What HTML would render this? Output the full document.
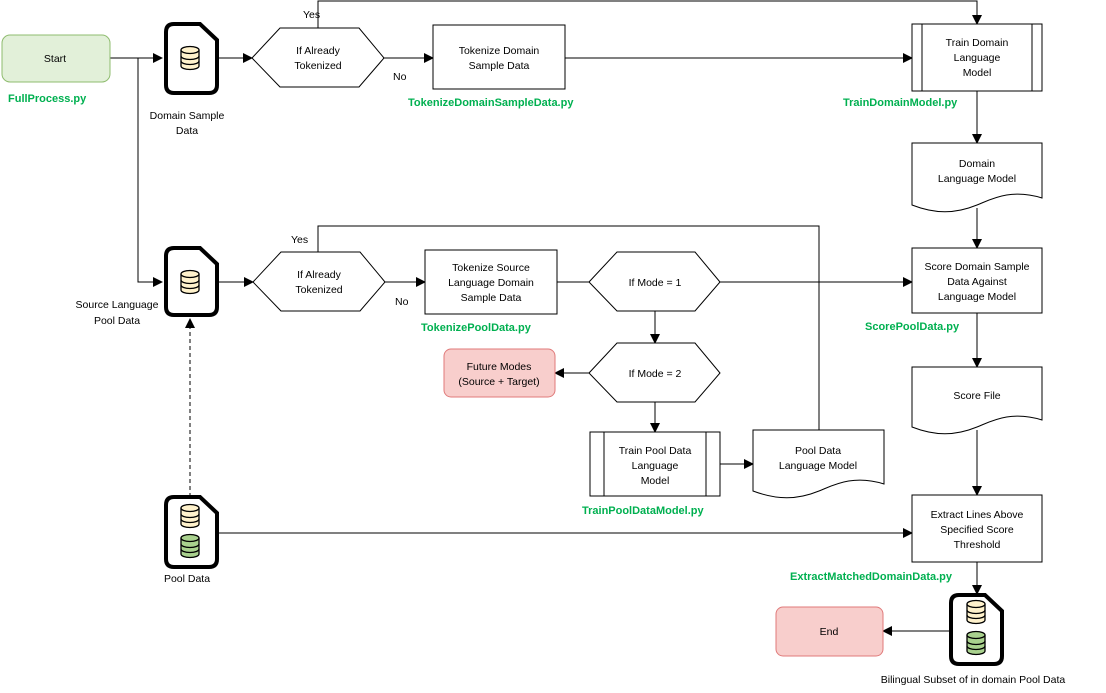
<!DOCTYPE html>
<html><head><meta charset="utf-8"><style>
html,body{margin:0;padding:0;background:#fff;}
svg{display:block;}
text{font-family:"Liberation Sans",sans-serif;font-size:10.5px;fill:#000;}
.g{fill:#00b050;font-weight:bold;font-size:11px;}
.c{text-anchor:middle;}
</style></head><body>
<svg width="1106" height="693" viewBox="0 0 1106 693" xmlns="http://www.w3.org/2000/svg">
<defs>
<marker id="a" markerWidth="10" markerHeight="10" refX="9" refY="5" orient="auto" markerUnits="userSpaceOnUse"><path d="M0,0 L10,5 L0,10 Z" fill="#000"/></marker>
<g id="cyl"><path d="M-9,-8 V8 A9,3.5 0 0 0 9,8 V-8" fill="#fff2cc" stroke="#000" stroke-width="1.3"/><ellipse cx="0" cy="-8" rx="9" ry="3.5" fill="#fff2cc" stroke="#000" stroke-width="1.3"/><path d="M-9,-2 A9,3.5 0 0 0 9,-2 M-9,3 A9,3.5 0 0 0 9,3" fill="none" stroke="#000" stroke-width="1.3"/></g>
<g id="cylg"><path d="M-9,-8 V8 A9,3.5 0 0 0 9,8 V-8" fill="#a9d18e" stroke="#000" stroke-width="1.3"/><ellipse cx="0" cy="-8" rx="9" ry="3.5" fill="#a9d18e" stroke="#000" stroke-width="1.3"/><path d="M-9,-2 A9,3.5 0 0 0 9,-2 M-9,3 A9,3.5 0 0 0 9,3" fill="none" stroke="#000" stroke-width="1.3"/></g>
</defs>
<g fill="none" stroke="#000" stroke-width="1">
<!-- connectors -->
<path d="M110,58 H162" marker-end="url(#a)"/>
<path d="M138,58 V282 H162" marker-end="url(#a)"/>
<path d="M217,58 H252" marker-end="url(#a)"/>
<path d="M318,28 V1 H977 V24" marker-end="url(#a)"/>
<path d="M384,58 H433" marker-end="url(#a)"/>
<path d="M565,58 H912" marker-end="url(#a)"/>
<path d="M977,91 V143" marker-end="url(#a)"/>
<path d="M977,208 V248" marker-end="url(#a)"/>
<path d="M977,313 V367" marker-end="url(#a)"/>
<path d="M977,430 V495" marker-end="url(#a)"/>
<path d="M977,562 V594" marker-end="url(#a)"/>
<path d="M951,631 H883" marker-end="url(#a)"/>
<path d="M217,282 H253" marker-end="url(#a)"/>
<path d="M318,252 V226 H819 V430"/>
<path d="M385,282 H425" marker-end="url(#a)"/>
<path d="M557,282 H589"/>
<path d="M720,282 H912" marker-end="url(#a)"/>
<path d="M655,311 V343" marker-end="url(#a)"/>
<path d="M589,373 H555" marker-end="url(#a)"/>
<path d="M655,402 V432" marker-end="url(#a)"/>
<path d="M720,464 H753" marker-end="url(#a)"/>
<path d="M190,497 V319" stroke-dasharray="4,3" marker-end="url(#a)"/>
<path d="M217,533 H912" marker-end="url(#a)"/>
<!-- shapes -->
<rect x="2" y="35" width="108" height="47" rx="8" fill="#e2f0d9" stroke="#8fbc6f"/>
<path d="M252,58 L280,28 H359 L384,58 L359,87 H280 Z" fill="#fff"/>
<rect x="433" y="25" width="132" height="64" fill="#fff"/>
<rect x="912" y="24" width="130" height="67" fill="#fff"/>
<path d="M922,24 V91 M1032,24 V91"/>
<path d="M912,143 H1042 V198 C1010,188 990,200 977,205 C955,214 935,214 912,205 Z" fill="#fff"/>
<rect x="912" y="248" width="130" height="65" fill="#fff"/>
<path d="M912,367 H1042 V420 C1010,410 990,422 977,427 C955,436 935,436 912,427 Z" fill="#fff"/>
<rect x="912" y="495" width="130" height="67" fill="#fff"/>
<rect x="776" y="607" width="107" height="49" rx="7" fill="#f8cecc" stroke="#e07a7a"/>
<path d="M253,282 L281,252 H360 L385,282 L360,311 H281 Z" fill="#fff"/>
<rect x="425" y="250" width="132" height="64" fill="#fff"/>
<path d="M589,282 L617,252 H695 L720,282 L695,311 H617 Z" fill="#fff"/>
<path d="M589,373 L617,343 H695 L720,373 L695,402 H617 Z" fill="#fff"/>
<rect x="444" y="349" width="111" height="48" rx="7" fill="#f8cecc" stroke="#e07a7a"/>
<rect x="590" y="432" width="130" height="64" fill="#fff"/>
<path d="M604,432 V496 M706,432 V496"/>
<path d="M753,430 H884 V484 C852,474 832,486 819,491 C797,500 777,500 753,491 Z" fill="#fff"/>
<!-- doc shapes -->
<g stroke-width="4" fill="#fff">
<path d="M174,24 H200 L217,40 V85 Q217,93 209,93 H174 Q166,93 166,85 V32 Q166,24 174,24 Z"/>
<path d="M174,248 H200 L217,264 V307 Q217,315 209,315 H174 Q166,315 166,307 V256 Q166,248 174,248 Z"/>
<path d="M174,497 H200 L217,513 V559 Q217,567 209,567 H174 Q166,567 166,559 V505 Q166,497 174,497 Z"/>
<path d="M959,595 H985 L1002,611 V656 Q1002,664 994,664 H959 Q951,664 951,656 V603 Q951,595 959,595 Z"/>
</g>
</g>
<use href="#cyl" x="190" y="58"/>
<use href="#cyl" x="190" y="282"/>
<use href="#cyl" x="190" y="516"/>
<use href="#cylg" x="190" y="546"/>
<use href="#cyl" x="976" y="612"/>
<use href="#cylg" x="976" y="643"/>
<!-- text -->
<text x="55" y="62" class="c">Start</text>
<text x="8" y="102" class="g">FullProcess.py</text>
<text x="187" y="119" class="c">Domain Sample</text>
<text x="187" y="134" class="c">Data</text>
<text x="303" y="18">Yes</text>
<text x="318" y="54" class="c">If Already</text>
<text x="318" y="69" class="c">Tokenized</text>
<text x="393" y="80">No</text>
<text x="499" y="54" class="c">Tokenize Domain</text>
<text x="499" y="69" class="c">Sample Data</text>
<text x="408" y="106" class="g">TokenizeDomainSampleData.py</text>
<text x="977" y="46" class="c">Train Domain</text>
<text x="977" y="61" class="c">Language</text>
<text x="977" y="76" class="c">Model</text>
<text x="843" y="106" class="g">TrainDomainModel.py</text>
<text x="977" y="167" class="c">Domain</text>
<text x="977" y="182" class="c">Language Model</text>
<text x="977" y="270" class="c">Score Domain Sample</text>
<text x="977" y="285" class="c">Data Against</text>
<text x="977" y="300" class="c">Language Model</text>
<text x="865" y="330" class="g">ScorePoolData.py</text>
<text x="977" y="399" class="c">Score File</text>
<text x="977" y="518" class="c">Extract Lines Above</text>
<text x="977" y="533" class="c">Specified Score</text>
<text x="977" y="548" class="c">Threshold</text>
<text x="790" y="580" class="g">ExtractMatchedDomainData.py</text>
<text x="829" y="635" class="c">End</text>
<text x="973" y="683" class="c">Bilingual Subset of in domain Pool Data</text>
<text x="117" y="308" class="c">Source Language</text>
<text x="117" y="324" class="c">Pool Data</text>
<text x="291" y="243">Yes</text>
<text x="319" y="278" class="c">If Already</text>
<text x="319" y="293" class="c">Tokenized</text>
<text x="395" y="305">No</text>
<text x="491" y="271" class="c">Tokenize Source</text>
<text x="491" y="286" class="c">Language Domain</text>
<text x="491" y="301" class="c">Sample Data</text>
<text x="421" y="331" class="g">TokenizePoolData.py</text>
<text x="655" y="286" class="c">If Mode = 1</text>
<text x="655" y="377" class="c">If Mode = 2</text>
<text x="499" y="370" class="c">Future Modes</text>
<text x="499" y="385" class="c">(Source + Target)</text>
<text x="655" y="454" class="c">Train Pool Data</text>
<text x="655" y="469" class="c">Language</text>
<text x="655" y="484" class="c">Model</text>
<text x="582" y="514" class="g">TrainPoolDataModel.py</text>
<text x="818" y="454" class="c">Pool Data</text>
<text x="818" y="469" class="c">Language Model</text>
<text x="187" y="582" class="c">Pool Data</text>
</svg>
</body></html>
